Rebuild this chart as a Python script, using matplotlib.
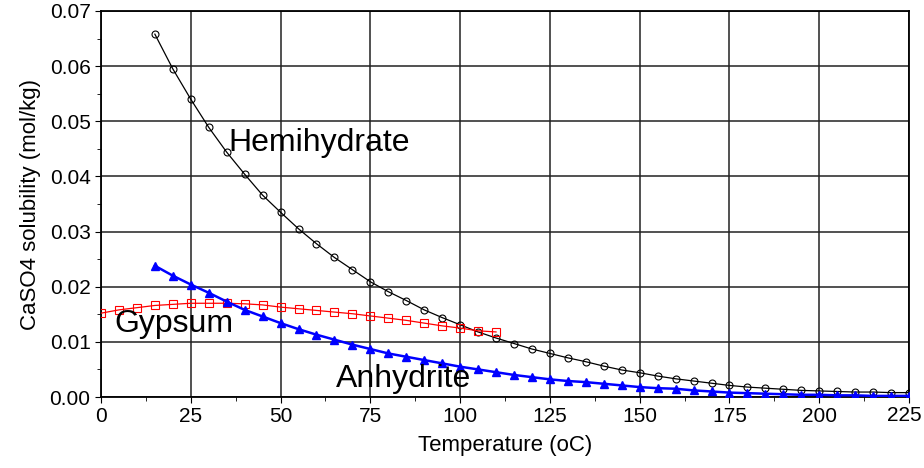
import numpy as np
import matplotlib.pyplot as plt
from matplotlib.ticker import MultipleLocator, FuncFormatter

plt.rcParams['font.family'] = ['Liberation Sans', 'DejaVu Sans']

# temperatures (oC)
t_hemi = list(range(15, 230, 5))
t_gyp = list(range(0, 115, 5))
t_anh = list(range(15, 230, 5))

# solubility (mol/kg)
hemihydrate = [0.0658, 0.0595, 0.0540, 0.0489, 0.0444, 0.0404, 0.0366, 0.0335, 0.0305,
               0.0278, 0.0253, 0.0231, 0.0209, 0.0191, 0.0175, 0.0158, 0.0144, 0.0131,
               0.0118, 0.0107, 0.0097, 0.0087, 0.0079, 0.0071, 0.0064, 0.0056, 0.0049,
               0.0044, 0.0038, 0.0033, 0.0029, 0.0025, 0.0021, 0.0018, 0.0016, 0.0014,
               0.0012, 0.0011, 0.0010, 0.0009, 0.0009, 0.0008, 0.0008]
gypsum = [0.0152, 0.0158, 0.0162, 0.0166, 0.0168, 0.0170, 0.0170, 0.0170, 0.0169,
          0.0167, 0.0163, 0.0160, 0.0157, 0.0154, 0.0151, 0.0147, 0.0143, 0.0139,
          0.0134, 0.0129, 0.0125, 0.0120, 0.0118]
anhydrite = [0.0238, 0.0220, 0.0204, 0.0189, 0.0173, 0.0158, 0.0146, 0.0134, 0.0123,
             0.0113, 0.0104, 0.0095, 0.0087, 0.0079, 0.0073, 0.0067, 0.0061, 0.0055,
             0.0050, 0.0045, 0.0040, 0.0036, 0.0032, 0.0029, 0.0027, 0.0024, 0.0021,
             0.0018, 0.0016, 0.0015, 0.0012, 0.0010, 0.0008, 0.0007, 0.0006, 0.0005,
             0.0004, 0.0004, 0.0003, 0.0003, 0.0002, 0.0002, 0.0002]

x_max = 225

fig = plt.figure(figsize=(9.24, 4.68), dpi=100)
ax = fig.add_axes([0.1093, 0.1517, 0.8745, 0.8248])

ax.plot(t_hemi, hemihydrate, color='black', lw=0.9, marker='o', ms=5,
        mfc='none', mec='black', mew=0.8, zorder=3)
ax.plot(t_gyp, gypsum, color='red', lw=0.9, marker='s', ms=5.5,
        mfc='none', mec='red', mew=0.8, zorder=3)
ax.plot(t_anh, anhydrite, color='blue', lw=1.8, marker='^', ms=6,
        mfc='blue', mec='blue', zorder=3)

ax.text(35.5, 0.0460, 'Hemihydrate', fontsize=23, va='center', ha='left')
ax.text(3.8, 0.0133, 'Gypsum', fontsize=23, va='center', ha='left')
ax.text(65.5, 0.0033, 'Anhydrite', fontsize=23, va='center', ha='left')

ax.set_xlim(0, x_max)
ax.set_ylim(0, 0.07)
ax.xaxis.set_major_locator(MultipleLocator(25))
ax.xaxis.set_minor_locator(MultipleLocator(12.5))
# last x label drawn separately so it stays inside the figure
ax.xaxis.set_major_formatter(FuncFormatter(lambda v, p: '' if v >= x_max else '%d' % v))
ax.yaxis.set_major_locator(MultipleLocator(0.01))
ax.yaxis.set_minor_locator(MultipleLocator(0.005))
ax.yaxis.set_major_formatter(plt.FormatStrFormatter('%.2f'))
ax.grid(True, which='major', color='#222222', lw=1.1)
ax.set_axisbelow(True)
ax.tick_params(which='both', direction='out', labelsize=15)
ax.tick_params(which='major', length=4)
ax.tick_params(which='minor', length=3)
for s in ax.spines.values():
    s.set_linewidth(1.3)

ax.annotate('%d' % x_max, xy=(x_max, 0), xycoords=('data', 'axes fraction'),
            xytext=(13, -9), textcoords='offset pixels', ha='right', va='top',
            fontsize=15)

ax.set_xlabel('Temperature (oC)', fontsize=16, labelpad=6)
ax.set_ylabel('CaSO4 solubility (mol/kg)', fontsize=16, labelpad=6)

plt.savefig('out.png', dpi=100)
